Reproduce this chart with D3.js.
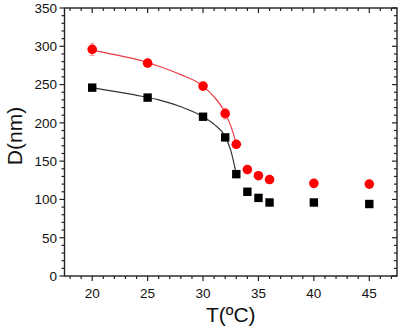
<!DOCTYPE html>
<html><head><meta charset="utf-8">
<script src="https://cdn.jsdelivr.net/npm/d3@7"></script>
<style>body{margin:0;background:#fff}svg{display:block}text{font-family:"Liberation Sans",Arial,sans-serif;fill:#111}</style>
</head><body>
<script>
const temps = [20, 25, 30, 32, 33, 34, 35, 36, 40, 45];
const redD = [296, 278, 248, 212, 172, 139, 131, 126, 121, 120];
const redErr = [8, 3, 3, 7, 3, 2, 2, 2, 2, 2];
const blackD = [246, 233, 208, 181, 133, 110, 102, 96, 96, 94];
const fitT = [20, 22, 24, 26, 28, 30, 31, 32, 32.5, 33];
const redFit = [295, 289, 283, 274, 263, 248, 234, 213, 196, 173];
const blackFit = [246, 241, 236, 230, 221, 208, 198, 182, 164, 133];
const xTicks = [20, 25, 30, 35, 40, 45];
const yTicks = [0, 50, 100, 150, 200, 250, 300, 350];

const W = 400, H = 331;
const m = {l: 64.5, r: 3, t: 8, b: 55};
const svg = d3.select("body").append("svg").attr("width", W).attr("height", H);
const x = d3.scaleLinear().domain([17.5, 47.5]).range([m.l, W - m.r]);
const y = d3.scaleLinear().domain([0, 350]).range([H - m.b, m.t]);
const x0 = m.l, x1 = W - m.r, y0 = H - m.b, y1 = m.t;
const minorX = d3.range(18, 48, 1).filter(v => v % 5 !== 0);
const minorY = d3.range(10, 350, 10).filter(v => v % 50 !== 0);
const axCol = "#222";

const g = svg.append("g");
// ticks
function tick(x1_, y1_, x2_, y2_) {
  g.append("line").attr("x1", x1_).attr("y1", y1_).attr("x2", x2_).attr("y2", y2_)
    .attr("stroke", axCol).attr("stroke-width", 1.2);
}
xTicks.forEach(v => { tick(x(v), y0, x(v), y0 + 5); tick(x(v), y1, x(v), y1 + 5); });
minorX.forEach(v => { tick(x(v), y0, x(v), y0 + 3); tick(x(v), y1, x(v), y1 + 3); });
yTicks.forEach(v => { tick(x0, y(v), x0 - 5, y(v)); tick(x1, y(v), x1 - 5, y(v)); });
minorY.forEach(v => { tick(x0, y(v), x0 - 3, y(v)); tick(x1, y(v), x1 - 3, y(v)); });
// frame
g.append("rect").attr("x", x0).attr("y", y1).attr("width", x1 - x0).attr("height", y0 - y1)
  .attr("fill", "none").attr("stroke", axCol).attr("stroke-width", 1.4);

// tick labels
g.selectAll(".xl").data(xTicks).enter().append("text")
  .attr("x", d => x(d)).attr("y", 298).attr("text-anchor", "middle")
  .attr("font-size", 13.5).text(d => d);
g.selectAll(".yl").data(yTicks).enter().append("text")
  .attr("x", 57).attr("y", d => y(d) + 4.8).attr("text-anchor", "end")
  .attr("font-size", 13.5).text(d => d);

// axis titles
svg.append("text").attr("x", (x0 + x1) / 2).attr("y", 322).attr("text-anchor", "middle")
  .attr("font-size", 21).text("T(ºC)");
svg.append("text").attr("transform", "translate(22,136) rotate(-90)").attr("text-anchor", "middle")
  .attr("font-size", 21).text("D(nm)");

// fit curves
const line = d3.line().x(d => x(d[0])).y(d => y(d[1])).curve(d3.curveMonotoneX);
svg.append("path").datum(fitT.map((t, i) => [t, blackFit[i]])).attr("d", line)
  .attr("fill", "none").attr("stroke", "#333").attr("stroke-width", 1.2);
svg.append("path").datum(fitT.map((t, i) => [t, redFit[i]])).attr("d", line)
  .attr("fill", "none").attr("stroke", "#ee3b45").attr("stroke-width", 1.2);

// error bars (red)
temps.forEach((t, i) => {
  svg.append("line").attr("x1", x(t)).attr("x2", x(t))
    .attr("y1", y(redD[i] - redErr[i])).attr("y2", y(redD[i] + redErr[i]))
    .attr("stroke", "#f4a0a0").attr("stroke-width", 1.2);
  svg.append("line").attr("x1", x(t) - 2.5).attr("x2", x(t) + 2.5)
    .attr("y1", y(redD[i] + redErr[i])).attr("y2", y(redD[i] + redErr[i]))
    .attr("stroke", "#f4a0a0").attr("stroke-width", 1);
  svg.append("line").attr("x1", x(t) - 2.5).attr("x2", x(t) + 2.5)
    .attr("y1", y(redD[i] - redErr[i])).attr("y2", y(redD[i] - redErr[i]))
    .attr("stroke", "#f4a0a0").attr("stroke-width", 1);
});

// markers
svg.selectAll(".sq").data(temps).enter().append("rect")
  .attr("x", (d) => x(d) - 4.2).attr("y", (d, i) => y(blackD[i]) - 4.2)
  .attr("width", 8.4).attr("height", 8.4).attr("fill", "#000");
svg.selectAll(".ci").data(temps).enter().append("circle")
  .attr("cx", d => x(d)).attr("cy", (d, i) => y(redD[i])).attr("r", 4.8).attr("fill", "#f00");
</script>
</body></html>
